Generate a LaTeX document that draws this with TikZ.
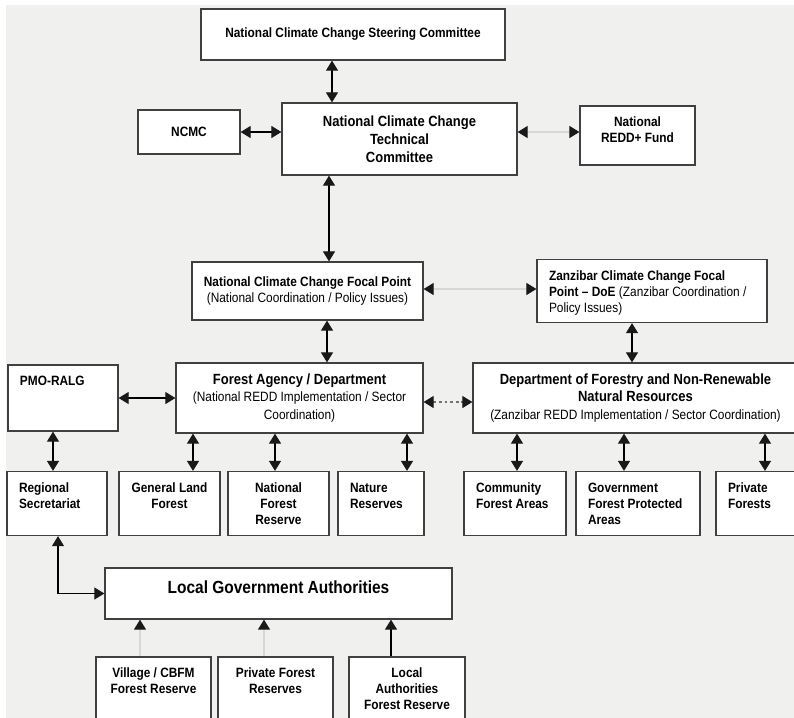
\documentclass[tikz,border=0pt]{standalone}
\usepackage{fontspec}
\setmainfont{Liberation Sans}[FakeStretch=0.88]
\usetikzlibrary{positioning,arrows.meta}
\definecolor{bggray}{HTML}{F0F1EF}
\definecolor{linegray}{HTML}{D6D8D6}
\begin{document}
\begin{tikzpicture}[node distance=2.5cm, thick, >={Triangle[length=0.25cm, width=0.3cm, color=black!90]},
    box/.style={draw=black!75, line width=0.9pt, fill=white, rectangle, inner sep=2pt, align=center, font=\fontsize{9.6}{11.3}\selectfont\bfseries},
    topbox/.style={box, inner xsep=0.3cm, inner ysep=0pt, align=flush left, text height=0.52cm, text depth=1.08cm}]
        \useasboundingbox (0,0) rectangle (19.85,-17.95);
        \fill[bggray] (0.15,-0.125) rectangle (19.85,-17.95);

        \node[box, minimum width=7.6cm, minimum height=1.275cm] (steer) at (8.825,-0.8625) {National Climate Change Steering Committee};
        \node[box, node distance=2.6125cm, below of=steer, xshift=1.1625cm, minimum width=5.875cm, minimum height=1.8cm, font=\fontsize{10.5}{13}\selectfont\bfseries] (tech) {National Climate Change\\Technical\\Committee};
        \node[box, node distance=5.2625cm, left of=tech, yshift=0.175cm, minimum width=2.55cm, minimum height=1.1cm] (ncmc) {NCMC};
        \node[box, node distance=5.95cm, right of=tech, yshift=0.0875cm, minimum width=2.875cm, minimum height=1.475cm, text depth=0.3cm] (fund) {National\\REDD+ Fund};

        \node[box, node distance=3.8cm, below of=tech, xshift=-2.3cm, minimum width=5.775cm, minimum height=1.45cm] (focal) {National Climate Change Focal Point\\{\mdseries (National Coordination / Policy Issues)}};
        \node[topbox, node distance=8.6125cm, right of=focal, text width=5.15cm, text depth=1.055cm] (zfocal) {Zanzibar Climate Change Focal\\Point – DoE {\mdseries (Zanzibar Coordination /}\\{\mdseries Policy Issues)}};

        \node[box, node distance=2.675cm, below of=focal, xshift=-0.2cm, minimum width=6.175cm, minimum height=1.75cm, font=\fontsize{9.6}{12.4}\selectfont\bfseries] (agency) {{\fontsize{10.5}{12.4}\selectfont Forest Agency / Department}\\{\mdseries (National REDD Implementation / Sector}\\{\mdseries Coordination)}};
        \node[topbox, node distance=5.9125cm, left of=agency, text width=2.15cm, text depth=1.13cm] (pmo) {PMO-RALG};
        \node[box, node distance=8.4cm, right of=agency, minimum width=8.125cm, minimum height=1.75cm, font=\fontsize{9.6}{12.6}\selectfont\bfseries] (dof) {{\fontsize{10.5}{12.6}\selectfont Department of Forestry and Non-Renewable}\\{\fontsize{10.5}{12.6}\selectfont Natural Resources}\\{\mdseries (Zanzibar REDD Implementation / Sector Coordination)}};

        \node[topbox, node distance=2.6375cm, below of=agency, xshift=-0.525cm, align=flush center, inner xsep=0.15cm, text width=2.225cm] (nfr) {National\\Forest\\Reserve};
        \node[topbox, node distance=2.725cm, left of=nfr, align=flush center, inner xsep=0.15cm, text width=2.225cm] (glf) {General Land\\Forest};
        \node[topbox, node distance=2.8125cm, left of=glf, text width=1.9cm] (regsec) {Regional\\Secretariat};
        \node[topbox, node distance=2.5625cm, right of=nfr, text width=1.55cm] (nature) {Nature\\Reserves};
        \node[topbox, node distance=3.35cm, right of=nature, text width=1.95cm] (cfa) {Community\\Forest Areas};
        \node[topbox, node distance=3.075cm, right of=cfa, text width=2.5cm] (gfpa) {Government\\Forest Protected\\Areas};
        \node[topbox, node distance=2.975cm, right of=gfpa, text width=1.45cm] (pf) {Private\\Forests};

        \node[box, node distance=2.25cm, below of=nfr, minimum width=8.675cm, minimum height=1.275cm, text depth=0.3cm, font=\fontsize{12.5}{15}\selectfont\bfseries] (lga) {Local Government Authorities};
        \node[topbox, node distance=2.375cm, below of=lga, xshift=-0.075cm, align=flush center, inner xsep=0.15cm, text width=2.575cm, text depth=1.055cm] (pfr) {Private Forest\\Reserves};
        \node[topbox, node distance=3.05cm, left of=pfr, align=flush center, inner xsep=0.15cm, text width=2.575cm, text depth=1.055cm] (village) {Village / CBFM\\Forest Reserve};
        \node[topbox, node distance=3.2875cm, right of=pfr, align=flush center, inner xsep=0.15cm, text width=2.6cm, text depth=1.055cm] (lafr) {Local\\Authorities\\Forest Reserve};

        \draw[<->] (steer.south -| 8.3,0) -- (tech.north -| 8.3,0);
        \draw[<->] (ncmc.east) -- (ncmc.east -| tech.west);
        \draw[<->, draw=linegray] (tech.east |- ncmc.east) -- (fund.west |- ncmc.east);
        \draw[<->] (tech.south -| 8.225,0) -- (focal.north -| 8.225,0);
        \draw[<->, draw=linegray] ([yshift=0.05cm]focal.east) -- ([yshift=0.05cm]focal.east -| zfocal.west);
        \draw[<->] (focal.south -| 8.175,0) -- (agency.north -| 8.175,0);
        \draw[<->] (zfocal.south -| 15.8,0) -- (dof.north -| 15.8,0);
        \draw[<->] (pmo.east) -- (pmo.east -| agency.west);
        \draw[<->, draw=black!55, dash pattern=on 2pt off 2pt] ([yshift=-0.1cm]agency.east) -- ([yshift=-0.1cm]dof.west);
        \draw[<->] (pmo.south -| 1.325,0) -- (regsec.north -| 1.325,0);
        \draw[<->] (agency.south -| 4.825,0) -- (glf.north -| 4.825,0);
        \draw[<->] (agency.south -| 6.875,0) -- (nfr.north -| 6.875,0);
        \draw[<->] (agency.south -| 10.175,0) -- (nature.north -| 10.175,0);
        \draw[<->] (dof.south -| 12.925,0) -- (cfa.north -| 12.925,0);
        \draw[<->] (dof.south -| 15.6,0) -- (gfpa.north -| 15.6,0);
        \draw[<->] (dof.south -| 19.125,0) -- (pf.north -| 19.125,0);
        \draw[<->] (regsec.south -| 1.45,0) |- (lga.west);
        \draw[->, draw=linegray] (village.north -| 3.5,0) -- (lga.south -| 3.5,0);
        \draw[->, draw=linegray] (pfr.north -| 6.6,0) -- (lga.south -| 6.6,0);
        \draw[->] (lafr.north -| 9.775,0) -- (lga.south -| 9.775,0);
    \end{tikzpicture}
\end{document}
